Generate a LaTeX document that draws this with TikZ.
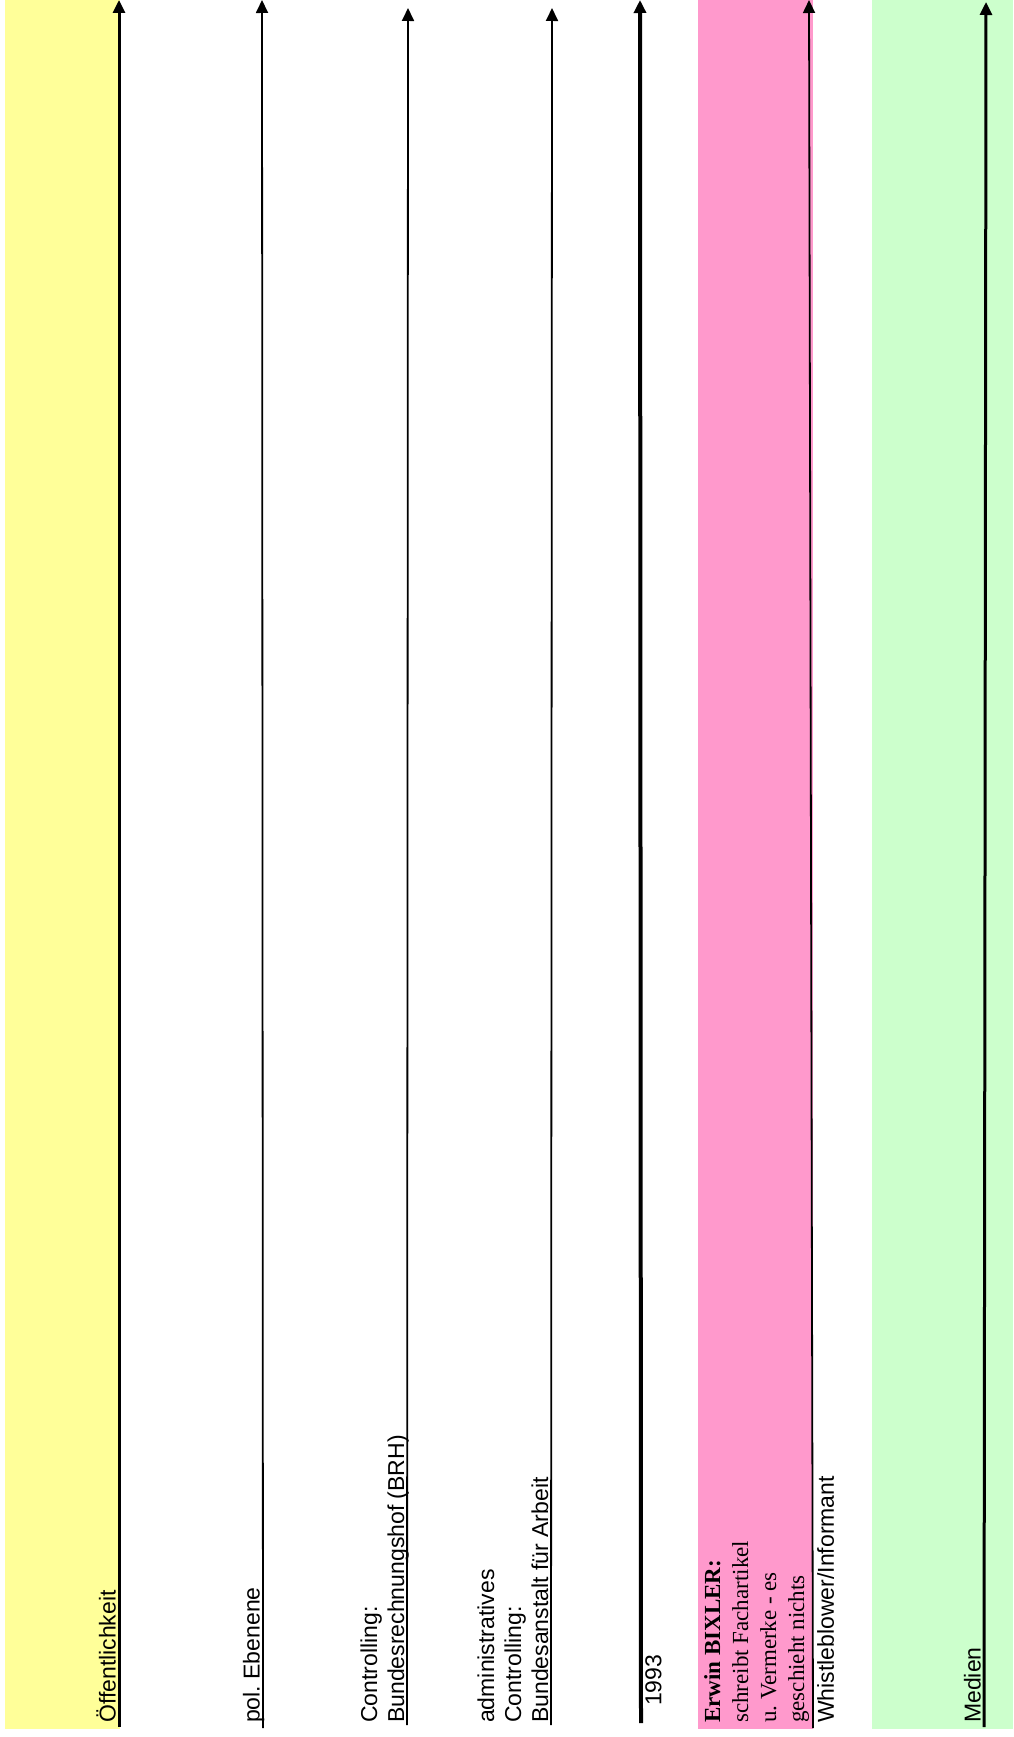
\documentclass[tikz,border=0pt]{standalone}
\usepackage{fontspec}
\setmainfont{Liberation Sans}
\newfontfamily\timesfont{Liberation Serif}
\usepackage{tikz}
\usetikzlibrary{arrows.meta}
\frenchspacing

\definecolor{laneyellow}{HTML}{FFFF99}
\definecolor{lanepink}{HTML}{FF99CC}
\definecolor{lanegreen}{HTML}{CCFFCC}

\begin{document}
\begin{tikzpicture}[x=1pt, y=-1pt, >={Triangle[length=13pt, width=12pt]},
        lanetext/.style={rotate=90, anchor=base west, inner sep=0, align=left, font=\fontsize{23}{27}\selectfont},
        righttext/.style={lanetext, anchor=north west},
        thin axis/.style={line width=1.8pt},
        thick axis/.style={line width=3pt},
        bold axis/.style={line width=4pt}]
        \useasboundingbox (0,0) rectangle (1013,1737);
        \fill[laneyellow] (5,0) rectangle (120,1729);
        \fill[lanepink] (698,0) rectangle (813,1729);
        \fill[lanegreen] (872,0) rectangle (1013,1729);

        \coordinate (oeff0) at (119,1727);
        \coordinate (oeff1) at (119,0);
        \coordinate (pol0) at (263,1728);
        \coordinate (pol1) at (262,0);
        \coordinate (brh0) at (407,1725);
        \coordinate (brh1) at (408,8);
        \coordinate (ba0) at (551,1725);
        \coordinate (ba1) at (552,8);
        \coordinate (jahr0) at (641,1723);
        \coordinate (jahr1) at (640,0);
        \coordinate (wb0) at (813,1728);
        \coordinate (wb1) at (809,0);
        \coordinate (med0) at (984,1727);
        \coordinate (med1) at (986,2);

        \node[lanetext] (oeff) at (115.5,1723) {Öffentlichkeit};
        \node[lanetext] (pol) at (259.5,1723) {pol. Ebenene};
        \node[lanetext] (brh) at (404,1723) {Controlling:\\Bundesrechnungshof (BRH)};
        \node[lanetext] (ba) at (548,1723) {administratives\\Controlling:\\Bundesanstalt für Arbeit};
        \node[righttext] (jahr) at (645,1706) {1993};
        \node[lanetext, font=\timesfont\fontsize{23}{28}\selectfont] (bixler) at (804,1723)
            {\textbf{Erwin BIXLER:}\\schreibt Fachartikel\\u. Vermerke - es\\geschieht nichts};
        \node[righttext] (wb) at (817,1723) {Whistleblower/Informant};
        \node[lanetext] (med) at (980.5,1723) {Medien};

        \path[->]
        (oeff0) edge[thick axis] (oeff1)
        (pol0) edge[thin axis] (pol1)
        (brh0) edge[thin axis] (brh1)
        (ba0) edge[thin axis] (ba1)
        (jahr0) edge[bold axis] (jahr1)
        (wb0) edge[thin axis] (wb1)
        (med0) edge[thick axis] (med1);
\end{tikzpicture}
\end{document}
